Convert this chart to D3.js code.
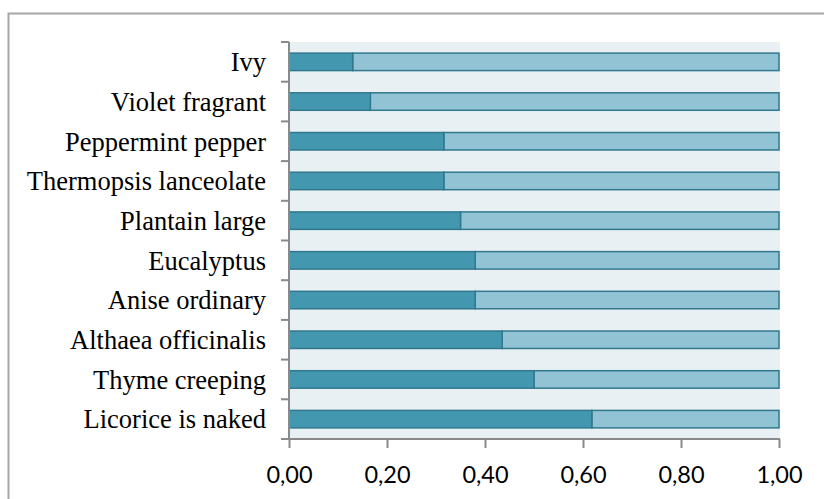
<!DOCTYPE html>
<html>
<head>
<meta charset="utf-8">
<script src="https://cdn.jsdelivr.net/npm/d3@7"></script>
<style>
  html, body { margin: 0; padding: 0; background: #ffffff; }
  svg { display: block; }
</style>
</head>
<body>
<svg id="chart" width="824" height="499"></svg>
<script>
// Plant names, listed from the top row down
const categories = [
  "Ivy",
  "Violet fragrant",
  "Peppermint pepper",
  "Thermopsis lanceolate",
  "Plantain large",
  "Eucalyptus",
  "Anise ordinary",
  "Althaea officinalis",
  "Thyme creeping",
  "Licorice is naked"
];
// Share value for each plant (dark segment); the rest fills up to 1.00
const values = [0.13, 0.166, 0.316, 0.316, 0.35, 0.38, 0.38, 0.435, 0.50, 0.618];
const totals = [1, 1, 1, 1, 1, 1, 1, 1, 1, 1];
const xTicks = [0, 0.2, 0.4, 0.6, 0.8, 1.0];

const svg = d3.select("#chart");
const W = 824, H = 499;
const plot = { left: 289, right: 780, top: 42, bottom: 439 };

// Outer frame of the chart
svg.append("rect")
  .attr("x", 8.5).attr("y", 13.5)
  .attr("width", W).attr("height", H)
  .attr("fill", "none")
  .attr("stroke", "#a6a6a6")
  .attr("stroke-width", 2);

const x = d3.scaleLinear().domain([0, 1]).range([plot.left, plot.right - 1]);
const y = d3.scaleBand().domain(categories).range([plot.top, plot.bottom]).paddingInner(0.56).paddingOuter(0.28);
const yEdge = d3.scaleLinear().domain([0, categories.length]).range([plot.top, plot.bottom]);

// Plot background
svg.append("rect")
  .attr("x", plot.left).attr("y", plot.top)
  .attr("width", plot.right - plot.left).attr("height", plot.bottom - plot.top)
  .attr("fill", "#e8f0f4");

const rows = categories.map((c, i) => ({ name: c, v: values[i], t: totals[i] }));

// Remainder segment (light)
svg.append("g").selectAll("rect")
  .data(rows).join("rect")
  .attr("x", d => x(d.v))
  .attr("y", d => y(d.name))
  .attr("width", d => x(d.t) - x(d.v))
  .attr("height", y.bandwidth())
  .attr("fill", "#92c3d5")
  .attr("stroke", "#31788c")
  .attr("stroke-width", 1.5);

// Value segment (dark)
svg.append("g").selectAll("rect")
  .data(rows).join("rect")
  .attr("x", x(0))
  .attr("y", d => y(d.name))
  .attr("width", d => x(d.v) - x(0))
  .attr("height", y.bandwidth())
  .attr("fill", "#4398b0")
  .attr("stroke", "#31788c")
  .attr("stroke-width", 1.5);

const axisColor = "#8a8a8a";

// Vertical axis with tick marks on category boundaries
const yAxisG = svg.append("g");
yAxisG.append("line")
  .attr("x1", plot.left).attr("x2", plot.left)
  .attr("y1", plot.top).attr("y2", plot.bottom + 1)
  .attr("stroke", axisColor).attr("stroke-width", 2);
yAxisG.selectAll("line.tick")
  .data(d3.range(categories.length + 1)).join("line")
  .attr("class", "tick")
  .attr("x1", plot.left - 8).attr("x2", plot.left)
  .attr("y1", d => yEdge(d)).attr("y2", d => yEdge(d))
  .attr("stroke", axisColor).attr("stroke-width", 2);
yAxisG.selectAll("text")
  .data(categories).join("text")
  .attr("x", plot.left - 23)
  .attr("y", d => y(d) + y.bandwidth() / 2)
  .attr("dy", "0.35em")
  .attr("text-anchor", "end")
  .attr("font-family", "'Liberation Serif', 'Times New Roman', serif")
  .attr("font-size", 26.5)
  .attr("fill", "#000")
  .text(d => d);

// Horizontal value axis
const xAxis = d3.axisBottom(x)
  .tickValues(xTicks)
  .tickSize(9)
  .tickPadding(18)
  .tickFormat(d => d.toFixed(2).replace(".", ","));
const xAxisG = svg.append("g")
  .attr("transform", `translate(0,${plot.bottom})`)
  .call(xAxis);
xAxisG.select(".domain")
  .attr("d", `M${plot.left},0H${plot.right}`)
  .attr("stroke", axisColor).attr("stroke-width", 2);
xAxisG.selectAll(".tick line").attr("stroke", axisColor).attr("stroke-width", 2);
xAxisG.selectAll(".tick text")
  .attr("font-family", "Lato, 'Open Sans', sans-serif")
  .attr("font-size", 23.5)
  .attr("fill", "#000");
</script>
</body>
</html>
